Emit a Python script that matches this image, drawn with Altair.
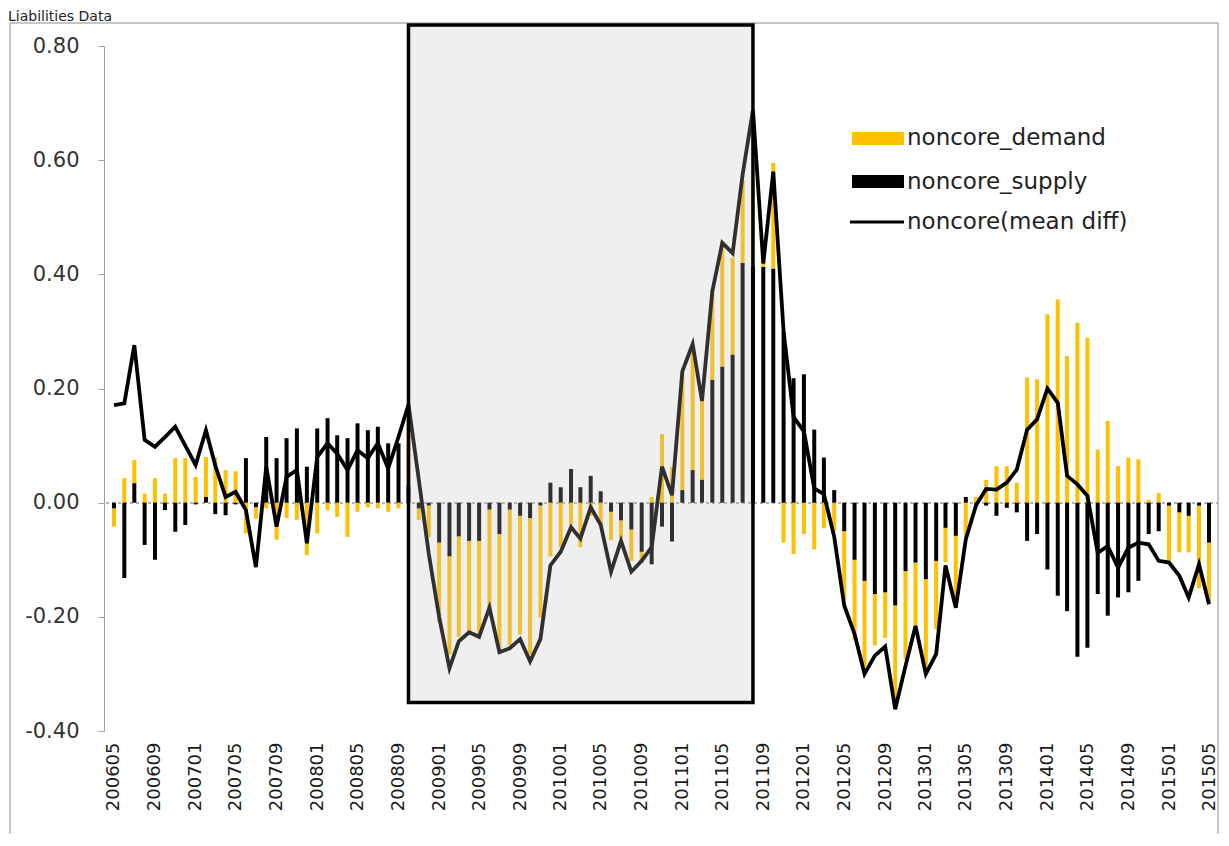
import altair as alt
import pandas as pd

# ---------------- data ----------------
FIRST_MONTH = "2006-05-01"
N_MONTHS = 109  # 200605 .. 201505

NONCORE_DEMAND = [
    -0.032, 0.043, 0.041, 0.016, 0.043, 0.016, 0.078, 0.078, 0.045, 0.070,
    0.080, 0.057, 0.055, -0.054, -0.020, -0.010, -0.065, -0.027, -0.030, -0.092,
    -0.054, -0.013, -0.025, -0.060, -0.016, -0.008, -0.010, -0.016, -0.010, 0.120,
    -0.020, -0.055, -0.140, -0.172, -0.176, -0.160, -0.168, -0.185, -0.203, -0.238,
    -0.208, -0.239, -0.196, -0.094, -0.078, -0.039, -0.078, -0.023, -0.040, -0.050,
    -0.031, -0.055, -0.020, 0.010, 0.120, 0.063, 0.205, 0.216, 0.140, 0.158,
    0.220, 0.170, 0.145, 0.155, 0.010, 0.185, -0.070, -0.090, -0.055, -0.082,
    -0.045, -0.050, -0.120, -0.140, -0.150, -0.090, -0.080, -0.165, -0.155, -0.110,
    -0.155, -0.120, -0.060, -0.120, -0.060, 0.010, 0.040, 0.064, 0.064, 0.035,
    0.219, 0.216, 0.330, 0.356, 0.257, 0.315, 0.289, 0.093, 0.143, 0.064,
    0.079, 0.076, 0.005, 0.017, -0.100, -0.070, -0.064, -0.145, -0.105,
]

NONCORE_SUPPLY = [
    -0.010, -0.132, 0.034, -0.074, -0.100, -0.013, -0.051, -0.039, -0.003, 0.010,
    -0.020, -0.022, -0.003, 0.078, -0.008, 0.115, 0.078, 0.113, 0.130, 0.063,
    0.130, 0.148, 0.118, 0.113, 0.139, 0.127, 0.133, 0.104, 0.104, 0.030,
    -0.010, -0.005, -0.070, -0.094, -0.059, -0.067, -0.067, -0.012, -0.055, -0.012,
    -0.023, -0.027, -0.005, 0.035, 0.027, 0.059, 0.027, 0.047, 0.020, -0.016,
    -0.031, -0.047, -0.086, -0.108, -0.042, -0.068, 0.022, 0.057, 0.040, 0.215,
    0.238, 0.259, 0.420, 0.413, 0.413, 0.410, 0.300, 0.218, 0.225, 0.128,
    0.079, 0.022, -0.050, -0.100, -0.137, -0.160, -0.157, -0.180, -0.120, -0.105,
    -0.134, -0.102, -0.044, -0.058, 0.010, -0.005, -0.005, -0.023, -0.009, -0.017,
    -0.067, -0.055, -0.117, -0.163, -0.190, -0.270, -0.254, -0.160, -0.198, -0.166,
    -0.157, -0.137, -0.055, -0.050, -0.005, -0.017, -0.023, -0.005, -0.070,
]

NONCORE_MEAN_DIFF = [
    0.171, 0.174, 0.276, 0.110, 0.098, 0.115, 0.133, 0.100, 0.066, 0.127,
    0.065, 0.010, 0.019, -0.013, -0.113, 0.063, -0.042, 0.045, 0.057, -0.071,
    0.080, 0.104, 0.086, 0.057, 0.092, 0.078, 0.104, 0.060, 0.115, 0.172,
    0.040, -0.090, -0.200, -0.290, -0.243, -0.227, -0.235, -0.184, -0.262, -0.255,
    -0.239, -0.278, -0.239, -0.110, -0.086, -0.043, -0.063, -0.008, -0.039, -0.121,
    -0.067, -0.121, -0.102, -0.078, 0.063, 0.013, 0.230, 0.278, 0.178, 0.370,
    0.455, 0.437, 0.575, 0.688, 0.419, 0.580, 0.300, 0.150, 0.125, 0.025,
    0.015, -0.060, -0.180, -0.230, -0.300, -0.268, -0.252, -0.362, -0.286, -0.216,
    -0.300, -0.265, -0.110, -0.184, -0.064, -0.004, 0.024, 0.023, 0.035, 0.058,
    0.128, 0.146, 0.200, 0.175, 0.047, 0.032, 0.012, -0.088, -0.076, -0.114,
    -0.079, -0.070, -0.073, -0.102, -0.105, -0.128, -0.166, -0.108, -0.178,
]

TICK_LABELS = [
    "200605", "200609", "200701", "200705", "200709", "200801", "200805",
    "200809", "200901", "200905", "200909", "201001", "201005", "201009",
    "201101", "201105", "201109", "201201", "201205", "201209", "201301",
    "201305", "201309", "201401", "201405", "201409", "201501", "201505",
]

SERIES = ["noncore_demand", "noncore_supply", "noncore(mean diff)"]
COLORS = ["#FFC000", "#000000", "#000000"]
Y_TICKS = [-0.4, -0.2, 0.0, 0.2, 0.4, 0.6, 0.8]
CRISIS_BOX = ["2008-10-01", "2011-08-01"]     # highlighted period
CRISIS_BOX_Y = [-0.35, 0.837]
TITLE = "Liabilities Data"

# ---------------- tables ----------------
months = pd.date_range(FIRST_MONTH, periods=N_MONTHS, freq="MS")
bars = pd.DataFrame({
    "date": list(months) * 2,
    "value": NONCORE_DEMAND + NONCORE_SUPPLY,
    "series": [SERIES[0]] * N_MONTHS + [SERIES[1]] * N_MONTHS,
    "ord": [1] * N_MONTHS + [0] * N_MONTHS,
})
line = pd.DataFrame({"date": months, "value": NONCORE_MEAN_DIFF})
box = pd.DataFrame({"x": [CRISIS_BOX[0]], "x2": [CRISIS_BOX[1]],
                    "y": [CRISIS_BOX_Y[0]], "y2": [CRISIS_BOX_Y[1]]})


def dt(label):
    return alt.DateTime(year=int(label[:4]), month=int(label[4:]), date=1)


x_scale = alt.Scale(domain=[alt.DateTime(year=2006, month=4, date=16),
                            alt.DateTime(year=2015, month=5, date=16)])
y_scale = alt.Scale(domain=[-0.4, 0.8], nice=False, zero=False)

x_axis = alt.Axis(values=[dt(t) for t in TICK_LABELS], format="%Y%m",
                  labelAngle=270, labelAlign="right", labelBaseline="middle",
                  labelPadding=11, labelFontSize=18, labelColor="#1a1a1a",
                  ticks=False, domain=False, grid=False, title=None,
                  labelOverlap=False)
y_axis = alt.Axis(values=Y_TICKS, labelExpr="replace(format(datum.value, '.2f'), '\u2212', '-')",
                  labelFontSize=21, labelColor="#333333", labelPadding=19,
                  tickSize=6, tickColor="#a0a0a0", domainColor="#a0a0a0",
                  grid=False, title=None)

base_x = alt.X("date:T", scale=x_scale, axis=x_axis)

zero_rule = alt.Chart(line).mark_rule(color="#b5b5b5", strokeWidth=1, strokeDash=[3, 3]).encode(
    y=alt.datum(0, scale=y_scale))

bar_layer = alt.Chart(bars).mark_bar(size=4).encode(
    x=base_x,
    y=alt.Y("value:Q", stack="zero", scale=y_scale, axis=y_axis),
    color=alt.Color("series:N", scale=alt.Scale(domain=SERIES[:2], range=COLORS[:2]), legend=None),
    order=alt.Order("ord:Q", sort="ascending"),
)

line_layer = alt.Chart(line).mark_line(color=COLORS[2], strokeWidth=3.8).encode(
    x=alt.X("date:T", scale=x_scale),
    y=alt.Y("value:Q", scale=y_scale),
)

box_layer = alt.Chart(box).mark_rect(fill="#bfbfbf", fillOpacity=0.25, stroke="black",
                                     strokeWidth=3.5).encode(
    x=alt.X("x:T", scale=x_scale), x2="x2:T",
    y=alt.Y("y:Q", scale=y_scale), y2="y2:Q",
)

# ---------------- manual legend ----------------
one = pd.DataFrame({"k": [0]})
leg_demand = alt.Chart(one).mark_rect(color=COLORS[0]).encode(
    x=alt.value(748), x2=alt.value(800), y=alt.value(86), y2=alt.value(99))
leg_supply = alt.Chart(one).mark_rect(color=COLORS[1]).encode(
    x=alt.value(748), x2=alt.value(800), y=alt.value(129), y2=alt.value(142))
leg_line = alt.Chart(one).mark_rule(color=COLORS[2], strokeWidth=3).encode(
    x=alt.value(746), x2=alt.value(800), y=alt.value(176))
leg_texts = [
    alt.Chart(pd.DataFrame({"t": [s]})).mark_text(align="left", baseline="middle",
                                                  fontSize=23, color="#222222").encode(
        text="t:N", x=alt.value(803), y=alt.value(yy))
    for s, yy in zip(SERIES, [92, 136, 176])
]

frame = alt.Chart(one).mark_rect(fillOpacity=0, stroke="#8c8c8c", strokeWidth=1).encode(
    x=alt.value(-94), x2=alt.value(1114), y=alt.value(-23), y2=alt.value(900))
title = alt.Chart(pd.DataFrame({"t": [TITLE]})).mark_text(
    align="left", baseline="alphabetic", fontSize=14, color="#222222").encode(
    text="t:N", x=alt.value(-96), y=alt.value(-25))

chart = alt.layer(
    frame, title, zero_rule, bar_layer, line_layer, box_layer,
    leg_demand, leg_supply, leg_line, *leg_texts,
).properties(
    width=1115, height=685,
    autosize=alt.AutoSizeParams(type="none"),
    padding={"left": 96, "top": 38, "right": 2, "bottom": 103},
).configure(font="DejaVu Sans").configure_view(stroke=None)

chart.save("out.html", embed_options={"renderer": "svg", "actions": False})
